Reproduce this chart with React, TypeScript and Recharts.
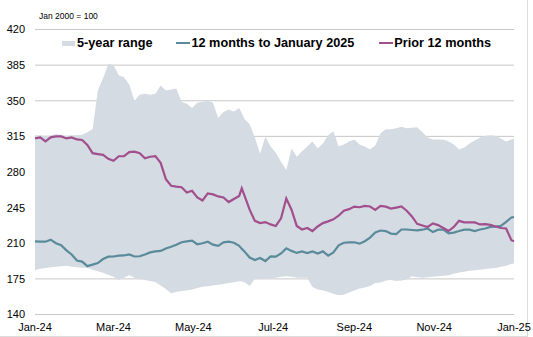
import React from 'react';
import { ComposedChart, Area, Line, XAxis, YAxis, CartesianGrid, Legend } from 'recharts';

// day offset from 1 Jan 2024
const days = [
  0, 4, 8, 12, 16, 20, 24, 28, 32, 36,
  40, 44, 48, 52, 56, 60, 64, 68, 72, 76,
  80, 84, 88, 92, 96, 100, 104, 108, 112, 116,
  120, 124, 128, 132, 136, 140, 144, 148, 152, 156,
  158,
  160, 164, 168, 172, 176, 180, 184, 188, 192, 196,
  200, 204, 208, 212, 216, 220, 224, 228, 232, 236,
  240, 244, 248, 252, 256, 260, 264, 268, 272, 276,
  280, 284, 288, 292, 296, 300, 304, 308, 312, 316,
  320, 324, 328, 332, 336, 340, 344, 348, 352, 356,
  360, 364, 366,
];

const rangeLow = [
  183.5, 185, 185.8, 186.5, 187, 187.5, 188, 187, 186.5, 186,
  186, 184, 182.5, 181, 179, 177, 174, 176, 178.5, 176,
  175, 174, 173, 172, 168.5, 165, 161, 162, 163, 163.5,
  164.6, 166, 167.3, 167.8, 168.5, 169.2, 170, 171, 171.8, 172.7,
  172.5,
  172, 168, 175, 175, 175, 175.5, 176, 177, 177.6, 177,
  176, 176, 176, 167, 164.5, 163.5, 162, 160.5, 159, 159.5,
  161.5, 163.5, 165.5, 166.5, 168, 171, 171.5, 173.5, 174, 172.8,
  173.5, 174.3, 177.5, 176.5, 176, 176.6, 177, 177.6, 178, 178.5,
  180, 181.2, 182, 183, 183.5, 184, 184.6, 185.2, 185.8, 187,
  188, 189.5, 190,
];

const rangeHigh = [
  316, 316, 315.5, 316, 317, 316.5, 315.5, 316, 316, 316.5,
  319, 322, 360, 372, 386, 385, 375, 373, 366, 350,
  356, 357, 356, 357, 365, 360, 361, 362, 349, 347,
  343, 348, 349, 350, 348, 333, 339, 341.5, 339.5, 343,
  338,
  332, 327, 314, 298, 315, 305, 299, 290, 282, 303,
  295, 300.5, 305, 310, 303, 308, 316, 320, 305, 307,
  310, 312, 307, 305, 302, 306, 318, 322, 322, 323,
  324.4, 323, 323.5, 324, 319, 314, 312, 312, 312, 310,
  307, 302, 304, 308, 311, 314, 315.5, 316, 315.5, 313,
  310, 312, 313,
];

const last12Months = [
  211.8, 211.5, 211.5, 213.5, 210, 208, 203, 199, 193, 192,
  187.5, 189, 190.5, 194.5, 196.8, 197, 197.8, 198, 199, 197,
  197.2, 199, 201, 202, 202.5, 204.8, 206.5, 208.5, 211, 211.8,
  212.5, 209, 210, 211.5, 208.6, 207.5, 210.9, 211.5, 210.5, 207.5,
  204.5,
  202, 196, 193.5, 195.5, 192.5, 197, 196.8, 200, 205, 202.5,
  200.5, 202, 200.4, 202, 199.8, 202, 197.8, 201, 208, 210.5,
  210.9, 211, 209.6, 212, 215.5, 220.5, 222.5, 222, 219.5, 219,
  223.5, 223.5, 223, 222.6, 223.3, 224.5, 221, 223.3, 223.3, 219.8,
  220.5, 222, 223.3, 223.3, 222, 223.5, 224.5, 226, 226.3, 227,
  231, 235.3, 235.6,
];

const prior12Months = [
  313, 314, 310, 314, 315, 315, 313, 314, 312, 311.5,
  306.5, 298.5, 297.6, 296.8, 293, 291, 295.5, 295.6, 299.5, 300,
  298.5, 293.5, 295, 295.6, 289, 273, 266.5, 265.6, 265, 259.8,
  261.5, 255, 252, 259, 258, 256, 255, 250.5, 253.5, 256.5,
  264,
  257, 243, 232, 229.8, 230.8, 228.5, 227, 234.5, 254, 243,
  227, 223.5, 225, 222, 226.5, 229.8, 231.5, 233.5, 237, 242,
  243.5, 246, 245.4, 246.7, 246.1, 242.8, 246.7, 246, 244, 245,
  246.1, 242, 236.3, 229.1, 227.5, 226, 229.5, 227.8, 225, 222,
  226, 232, 230.5, 230.5, 230.5, 228.5, 228.8, 228, 226.5, 225,
  224.5, 213, 212,
];

const monthTicks = [0, 60, 121, 182, 244, 305, 366];
const monthLabels = ['Jan-24', 'Mar-24', 'May-24', 'Jul-24', 'Sep-24', 'Nov-24', 'Jan-25'];
const yTicks = [140, 175, 210, 245, 280, 315, 350, 385, 420];
const seriesNames = ['5-year range', '12 months to January 2025', 'Prior 12 months'];
const unitNote = 'Jan 2000 = 100';

const COLORS = { range: '#d5dbe3', last: '#5a8b9a', prior: '#a24f8d', grid: '#c8c8c8' };
const FONT = '"Liberation Sans", Arial, Helvetica, sans-serif';

const data = days.map((d, i) => ({
  day: d,
  range: [rangeLow[i], rangeHigh[i]],
  last: last12Months[i],
  prior: prior12Months[i],
}));

const renderLegend = () => (
  <div
    style={{
      display: 'flex',
      alignItems: 'center',
      fontFamily: FONT,
      fontWeight: 700,
      fontSize: 12.7,
      lineHeight: '14px',
      color: '#000',
      whiteSpace: 'nowrap',
    }}
  >
    <span style={{ display: 'inline-block', width: 13, height: 5, background: COLORS.range, marginRight: 2 }} />
    <span>{seriesNames[0]}</span>
    <span style={{ display: 'inline-block', width: 14, height: 2, background: COLORS.last, marginLeft: 24, marginRight: 1 }} />
    <span>{seriesNames[1]}</span>
    <span style={{ display: 'inline-block', width: 14, height: 2, background: COLORS.prior, marginLeft: 25, marginRight: 1 }} />
    <span>{seriesNames[2]}</span>
  </div>
);

export default function App() {
  return (
    <div
      style={{
        position: 'absolute',
        left: 0,
        top: 0,
        width: 527,
        height: 336,
        borderRight: '1px solid #dcdcdc',
        borderBottom: '1px solid #dcdcdc',
        background: '#fff',
        overflow: 'visible',
      }}
    >
      <div
        style={{
          position: 'absolute',
          left: 39,
          top: 11,
          fontFamily: FONT,
          fontSize: 8.5,
          lineHeight: '10px',
          color: '#000',
          whiteSpace: 'nowrap',
          zIndex: 2,
        }}
      >
        {unitNote}
      </div>
      <ComposedChart
        width={533}
        height={337}
        data={data}
        margin={{ top: 29.5, right: 19, bottom: 0, left: 0 }}
      >
        <CartesianGrid vertical={false} stroke={COLORS.grid} strokeWidth={1} />
        <XAxis
          dataKey="day"
          type="number"
          domain={[0, 366]}
          ticks={monthTicks}
          interval={0}
          tickFormatter={(v: number) => monthLabels[monthTicks.indexOf(v)] ?? ''}
          axisLine={false}
          tickLine={false}
          tickSize={0}
          tickMargin={9}
          height={22.5}
          tick={{ fontFamily: FONT, fontSize: 11, fill: '#000' }}
        />
        <YAxis
          type="number"
          domain={[140, 420]}
          ticks={yTicks}
          interval={0}
          axisLine={false}
          tickLine={false}
          tickSize={0}
          tickMargin={10}
          width={35}
          tick={{ fontFamily: FONT, fontSize: 11, fill: '#000' }}
        />
        <Legend
          verticalAlign="middle"
          align="center"
          content={renderLegend}
          wrapperStyle={{ position: 'absolute', left: 62, top: 36, width: 460, height: 14 }}
        />
        <Area
          type="linear"
          dataKey="range"
          name={seriesNames[0]}
          stroke="none"
          fill={COLORS.range}
          fillOpacity={1}
          isAnimationActive={false}
          activeDot={false}
        />
        <Line
          type="linear"
          dataKey="last"
          name={seriesNames[1]}
          stroke={COLORS.last}
          strokeWidth={2.2}
          dot={false}
          activeDot={false}
          isAnimationActive={false}
        />
        <Line
          type="linear"
          dataKey="prior"
          name={seriesNames[2]}
          stroke={COLORS.prior}
          strokeWidth={2.2}
          dot={false}
          activeDot={false}
          isAnimationActive={false}
        />
      </ComposedChart>
    </div>
  );
}
